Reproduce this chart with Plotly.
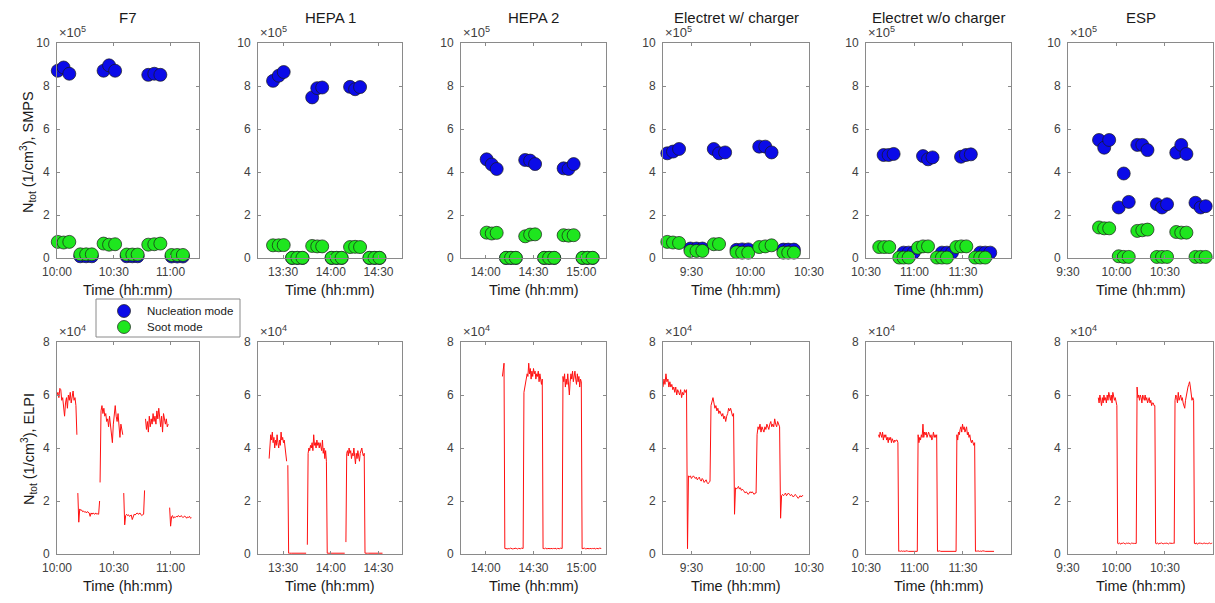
import plotly.graph_objects as go
from datetime import datetime, timedelta

W, H = 1215, 603
FONT = "Liberation Sans, Arial, sans-serif"
DAY = "2021-01-01"

titles = ["F7", "HEPA 1", "HEPA 2", "Electret w/ charger", "Electret w/o charger", "ESP"]
legend_labels = ["Nucleation mode", "Soot mode"]

# ---------------- SMPS (values in 1e5 /cm3) ----------------
f7_nuc_t = ["10:00:24", "10:03:30", "10:06:30", "10:12:18", "10:15:24", "10:18:24",
            "10:24:36", "10:27:30", "10:30:42", "10:36:48", "10:39:48", "10:42:36",
            "10:48:12", "10:51:24", "10:54:36", "11:00:30", "11:03:30", "11:06:30"]
f7_nuc_v = [8.71, 8.86, 8.57, 0.08, 0.08, 0.08, 8.71, 8.96, 8.71, 0.08, 0.08, 0.08,
            8.52, 8.57, 8.52, 0.07, 0.07, 0.07]
f7_soot_t = f7_nuc_t
f7_soot_v = [0.75, 0.72, 0.75, 0.17, 0.17, 0.17, 0.67, 0.62, 0.64, 0.16, 0.16, 0.16,
             0.62, 0.64, 0.67, 0.14, 0.14, 0.14]

hepa1_nuc_t = ["13:23:42", "13:27:18", "13:30:24", "13:35:42", "13:39:00", "13:42:12",
               "13:48:18", "13:51:30", "13:54:36", "14:00:30", "14:03:42", "14:06:48",
               "14:12:06", "14:15:18", "14:18:24", "14:24:18", "14:27:30", "14:30:36"]
hepa1_nuc_v = [8.24, 8.48, 8.65, 0.0, 0.0, 0.0, 7.47, 7.90, 7.93, 0.0, 0.0, 0.0,
               7.96, 7.85, 7.95, 0.0, 0.0, 0.0]
hepa1_soot_t = hepa1_nuc_t
hepa1_soot_v = [0.59, 0.59, 0.60, 0.01, 0.01, 0.01, 0.56, 0.54, 0.54, 0.01, 0.01, 0.01,
                0.51, 0.52, 0.51, 0.01, 0.01, 0.01]

hepa2_nuc_t = ["14:00:36", "14:03:48", "14:06:54", "14:12:48", "14:15:54", "14:18:54",
               "14:24:48", "14:27:54", "14:31:00", "14:36:42", "14:39:48", "14:43:00",
               "14:48:54", "14:52:00", "14:55:12", "15:00:48", "15:03:54", "15:07:06"]
hepa2_nuc_v = [4.59, 4.35, 4.14, 0.0, 0.0, 0.0, 4.56, 4.53, 4.37, 0.0, 0.0, 0.0,
               4.17, 4.14, 4.37, 0.0, 0.0, 0.0]
hepa2_soot_t = hepa2_nuc_t
hepa2_soot_v = [1.18, 1.14, 1.17, 0.01, 0.01, 0.01, 1.01, 1.09, 1.10, 0.01, 0.01, 0.01,
                1.06, 1.04, 1.06, 0.01, 0.01, 0.01]

elw_nuc_t = ["09:17:42", "09:20:36", "09:23:42", "09:29:30", "09:32:36", "09:35:36",
             "09:41:24", "09:44:06", "09:47:12", "09:53:00", "09:55:54", "09:59:00",
             "10:04:36", "10:07:42", "10:10:54", "10:16:54", "10:19:24", "10:22:18"]
elw_nuc_v = [4.87, 4.95, 5.07, 0.44, 0.44, 0.44, 5.07, 4.87, 4.91, 0.38, 0.40, 0.40,
             5.18, 5.18, 4.91, 0.39, 0.39, 0.39]
elw_soot_t = ["09:17:42", "09:20:36", "09:23:42", "09:29:30", "09:32:36", "09:35:36",
              "09:41:24", "09:44:06", "09:53:00", "09:55:54", "09:59:00",
              "10:04:36", "10:07:42", "10:10:54", "10:16:54", "10:19:24", "10:22:18"]
elw_soot_v = [0.75, 0.72, 0.70, 0.33, 0.33, 0.33, 0.64, 0.65, 0.27, 0.25, 0.25,
              0.51, 0.54, 0.59, 0.25, 0.25, 0.25]

elwo_nuc_t = ["10:40:54", "10:44:00", "10:47:06", "10:53:18", "10:56:24", "10:59:30",
              "11:05:18", "11:08:24", "11:11:12", "11:17:00", "11:20:06", "11:23:12",
              "11:28:48", "11:31:54", "11:34:54", "11:40:42", "11:43:48", "11:46:54"]
elwo_nuc_v = [4.79, 4.79, 4.84, 0.25, 0.25, 0.25, 4.74, 4.59, 4.68, 0.25, 0.25, 0.25,
              4.71, 4.79, 4.82, 0.25, 0.25, 0.25]
elwo_soot_t = ["10:38:12", "10:41:18", "10:44:24", "10:50:36", "10:53:18", "10:56:24",
               "11:02:12", "11:05:18", "11:08:24", "11:13:54", "11:17:00", "11:20:06",
               "11:25:54", "11:29:00", "11:32:06", "11:37:36", "11:40:42", "11:43:48"]
elwo_soot_v = [0.51, 0.51, 0.51, 0.02, 0.02, 0.02, 0.48, 0.54, 0.54, 0.02, 0.02, 0.02,
               0.51, 0.54, 0.54, 0.02, 0.02, 0.02]

esp_nuc_t = ["09:49:12", "09:52:24", "09:55:30", "10:01:24", "10:04:30", "10:07:36",
             "10:12:54", "10:16:00", "10:19:12", "10:25:00", "10:28:12", "10:31:18",
             "10:37:00", "10:40:06", "10:43:18", "10:48:54", "10:52:06", "10:55:12"]
esp_nuc_v = [5.49, 5.13, 5.49, 2.35, 3.93, 2.61, 5.26, 5.26, 5.02, 2.50, 2.35, 2.50,
             4.90, 5.26, 4.84, 2.57, 2.35, 2.41]
esp_soot_t = esp_nuc_t
esp_soot_v = [1.42, 1.38, 1.38, 0.08, 0.05, 0.05, 1.26, 1.29, 1.32, 0.05, 0.05, 0.05,
              1.21, 1.18, 1.18, 0.05, 0.05, 0.05]

# ---------------- ELPI (values in 1e4 /cm3), 30 s samples per segment ----------------
ELPI_STEP_S = 30

f7_elpi_starts = ["10:00:00", "10:11:00", "10:22:45", "10:35:15", "10:46:45", "10:59:30"]
f7_elpi_vals = [
    [6.0, 6.1, 5.9, 6.25, 6.2, 5.8, 5.9, 5.6, 5.2, 5.7, 5.9, 5.5, 6.0, 5.8, 6.1, 5.7,
     5.9, 6.15, 5.8, 5.9, 5.6, 4.5, None],
    [2.3, 1.2, 1.7, 1.65, 1.66, 1.6, 1.62, 1.58, 1.6, 1.55, 1.6, 1.57, 1.55, 1.42,
     1.55, 1.5, 1.55, 1.52, 1.5, 1.55, 1.5, 1.52, 1.5, 2.0, None],
    [2.7, 5.4, 5.6, 5.3, 5.5, 5.2, 5.3, 5.0, 5.1, 4.8, 5.2, 4.9, 4.5, 4.2, 4.9, 5.3,
     5.6, 5.2, 5.0, 5.3, 4.8, 4.4, 4.9, 4.6, 4.5, None],
    [2.3, 1.1, 1.45, 1.5, 1.45, 1.48, 1.42, 1.45, 1.47, 1.3, 1.45, 1.5, 1.47, 1.5,
     1.55, 1.52, 1.5, 1.55, 1.5, 1.45, 1.48, 1.5, 2.4, None],
    [5.1, 4.7, 5.0, 4.6, 5.2, 4.8, 5.1, 4.9, 5.3, 5.0, 5.2, 4.9, 5.4, 5.1, 5.5, 5.0,
     4.8, 5.2, 4.6, 5.3, 5.0, 4.9, 5.1, 4.8, 4.9, None],
    [1.75, 1.05, 1.4, 1.45, 1.35, 1.4, 1.38, 1.42, 1.4, 1.45, 1.42, 1.4, 1.45, 1.42,
     1.38, 1.4, 1.43, 1.4, 1.35, 1.4, 1.38, 1.42, 1.35, 1.37],
]

hepa1_elpi_starts = ["13:21:15", "13:33:00", "13:45:15", "13:57:15", "14:09:30", "14:21:30"]
hepa1_elpi_vals = [
    [3.6, 4.1, 4.5, 4.3, 4.6, 4.2, 4.4, 4.0, 4.3, 4.1, 4.5, 4.2, 4.0, 4.3, 4.1, 4.6,
     4.3, 4.4, 4.2, 4.3, 4.0, 3.8, 3.5, None],
    [3.35, 0.03, 0.03, 0.04, 0.03, 0.03, 0.03, 0.04, 0.03, 0.03, 0.03, 0.04, 0.03,
     0.03, 0.03, 0.04, 0.03, 0.03, 0.03, 0.04, 0.03, 0.03, 0.03, 0.03, None],
    [0.35, 3.8, 4.0, 3.9, 4.1, 4.0, 4.2, 3.9, 4.5, 4.1, 4.2, 4.0, 4.3, 4.1, 4.2, 4.0,
     4.2, 4.1, 3.9, 4.3, 3.8, 4.0, 3.6, 3.9],
    [3.5, 0.03, 0.03, 0.04, 0.03, 0.03, 0.03, 0.04, 0.03, 0.03, 0.03, 0.04, 0.03,
     0.03, 0.03, 0.04, 0.03, 0.03, 0.03, 0.04, 0.03, 0.03, 0.03, 0.03, None],
    [0.45, 3.8, 3.9, 3.7, 4.0, 3.8, 3.9, 3.6, 3.8, 3.7, 4.0, 3.6, 3.4, 3.8, 3.6, 3.9,
     3.7, 3.5, 3.8, 3.9, 4.0, 3.8, 3.7, 3.8],
    [0.03, 0.03, 0.04, 0.03, 0.03, 0.03, 0.04, 0.03, 0.03, 0.03, 0.04, 0.03, 0.03,
     0.03, 0.04, 0.03, 0.03, 0.03, 0.04, 0.03, 0.03, 0.03, 0.03],
]

hepa2_elpi_starts = ["14:10:30", "14:12:00", "14:24:00", "14:36:00", "14:48:30", "15:00:30"]
hepa2_elpi_vals = [
    [6.7, 7.1, 7.2],
    [0.21, 0.2, 0.22, 0.2, 0.19, 0.21, 0.2, 0.22, 0.2, 0.21, 0.19, 0.2, 0.21, 0.2,
     0.22, 0.2, 0.19, 0.21, 0.2, 0.21, 0.2, 0.22, 0.2, 0.21],
    [6.1, 6.3, 6.5, 6.6, 6.8, 6.7, 7.2, 6.8, 7.0, 6.6, 6.9, 6.7, 7.0, 6.8, 6.9, 6.6,
     6.8, 6.7, 6.9, 6.5, 6.8, 6.6, 6.4, 6.6],
    [0.2, 0.21, 0.2, 0.22, 0.2, 0.19, 0.21, 0.2, 0.22, 0.2, 0.21, 0.19, 0.2, 0.21,
     0.2, 0.22, 0.2, 0.19, 0.21, 0.2, 0.21, 0.2, 0.22, 0.2, 0.21],
    [6.7, 6.5, 6.8, 6.3, 6.6, 6.4, 6.8, 6.3, 6.0, 6.5, 6.8, 6.6, 6.9, 6.5, 6.7, 6.9,
     6.6, 6.4, 6.8, 6.5, 6.7, 6.3, 6.6, 6.5],
    [0.2, 0.21, 0.2, 0.22, 0.2, 0.19, 0.21, 0.2, 0.22, 0.2, 0.21, 0.19, 0.2, 0.21,
     0.2, 0.22, 0.2, 0.19, 0.21, 0.2, 0.21, 0.2, 0.22, 0.2, 0.21],
]

elw_elpi_starts = ["09:15:30", "09:28:00", "09:40:00", "09:52:00", "10:03:30", "10:15:30"]
elw_elpi_vals = [
    [6.3, 6.6, 6.4, 6.8, 6.5, 6.6, 6.3, 6.5, 6.3, 6.4, 6.2, 6.3, 6.1, 6.3, 6.0, 6.2,
     6.1, 6.0, 6.2, 5.9, 6.1, 6.0, 6.2, 6.1, 6.2],
    [0.2, 2.95, 2.9, 2.95, 2.85, 2.9, 2.95, 2.9, 2.85, 2.9, 2.8, 2.85, 2.9, 2.8, 2.75,
     2.85, 2.8, 2.7, 2.75, 2.8, 2.7, 2.65, 2.7, 2.75],
    [5.6, 5.8, 5.9, 5.7, 5.5, 5.6, 5.4, 5.5, 5.3, 5.4, 5.3, 5.2, 5.3, 5.1, 5.2, 5.0,
     5.2, 5.3, 5.5, 5.4, 5.5, 5.3, 5.2, 5.3],
    [1.5, 2.5, 2.45, 2.5, 2.55, 2.45, 2.5, 2.4, 2.45, 2.4, 2.35, 2.3, 2.35, 2.3, 2.25,
     2.3, 2.35, 2.3, 2.35, 2.3, 2.25, 2.3, 2.3],
    [4.5, 4.8, 4.7, 4.9, 4.6, 4.8, 4.7, 4.6, 4.8, 4.7, 4.9, 4.8, 4.7, 4.9, 5.0, 4.8,
     4.9, 4.8, 5.1, 4.9, 4.8, 5.0, 4.9, 4.8],
    [1.35, 2.2, 2.25, 2.2, 2.25, 2.3, 2.2, 2.25, 2.3, 2.25, 2.2, 2.25, 2.2, 2.15, 2.2,
     2.25, 2.2, 2.15, 2.1, 2.15, 2.2, 2.15, 2.2, 2.2],
]

elwo_elpi_starts = ["10:37:45", "10:50:15", "11:02:15", "11:14:15", "11:26:15", "11:37:45"]
elwo_elpi_vals = [
    [4.5, 4.4, 4.6, 4.5, 4.4, 4.6, 4.3, 4.5, 4.4, 4.5, 4.3, 4.4, 4.2, 4.4, 4.3, 4.4,
     4.2, 4.35, 4.3, 4.2, 4.3, 4.25, 4.3, 4.3, 4.2],
    [0.1, 0.11, 0.1, 0.12, 0.1, 0.1, 0.11, 0.1, 0.1, 0.12, 0.1, 0.11, 0.1, 0.1, 0.11,
     0.1, 0.12, 0.1, 0.1, 0.11, 0.1, 0.1, 0.11, 0.1],
    [4.5, 4.2, 4.4, 4.3, 4.5, 4.4, 4.9, 4.4, 4.6, 4.5, 4.6, 4.4, 4.5, 4.6, 4.5, 4.4,
     4.5, 4.3, 4.4, 4.6, 4.4, 4.5, 4.4, 4.5],
    [0.1, 0.11, 0.1, 0.12, 0.1, 0.1, 0.11, 0.1, 0.1, 0.12, 0.1, 0.11, 0.1, 0.1, 0.11,
     0.1, 0.12, 0.1, 0.1, 0.11, 0.1, 0.1, 0.11, 0.1],
    [4.5, 4.3, 4.6, 4.5, 4.7, 4.8, 4.6, 4.9, 4.7, 4.8, 4.6, 4.7, 4.8, 4.5, 4.6, 4.4,
     4.5, 4.3, 4.2, 4.3, 4.2, 4.1, 4.2],
    [0.1, 0.11, 0.1, 0.12, 0.1, 0.1, 0.11, 0.1, 0.1, 0.12, 0.1, 0.11, 0.1, 0.1, 0.11,
     0.1, 0.12, 0.1, 0.1, 0.11, 0.1, 0.1, 0.11, 0.1],
]

esp_elpi_starts = ["09:48:45", "10:00:45", "10:12:45", "10:24:15", "10:36:15", "10:48:15"]
esp_elpi_vals = [
    [5.9, 5.7, 6.0, 5.8, 5.6, 5.9, 5.7, 6.0, 5.8, 5.9, 5.7, 6.0, 5.8, 6.1, 5.9, 5.8,
     6.0, 5.7, 6.1, 5.9, 5.8, 5.9, 5.7, 5.6],
    [0.4, 0.38, 0.42, 0.4, 0.37, 0.41, 0.4, 0.43, 0.39, 0.4, 0.38, 0.41, 0.4, 0.42,
     0.39, 0.4, 0.38, 0.41, 0.4, 0.42, 0.39, 0.4, 0.41, 0.4],
    [6.3, 5.9, 6.0, 5.8, 6.0, 5.9, 5.7, 6.0, 5.9, 5.8, 6.0, 5.8, 5.9, 5.7, 5.8, 5.9,
     5.7, 5.8, 5.6, 5.7, 5.7, 5.6, 5.6],
    [0.4, 0.38, 0.42, 0.4, 0.37, 0.41, 0.4, 0.43, 0.39, 0.4, 0.38, 0.41, 0.4, 0.42,
     0.39, 0.4, 0.38, 0.41, 0.4, 0.42, 0.39, 0.4, 0.41, 0.4],
    [5.8, 6.0, 5.9, 5.7, 6.1, 5.8, 5.9, 6.0, 5.8, 5.9, 5.7, 5.6, 5.5, 5.8, 6.0, 6.1,
     6.3, 6.4, 6.5, 6.3, 6.0, 5.8, 5.9, 5.8],
    [0.4, 0.38, 0.42, 0.4, 0.37, 0.41, 0.4, 0.43, 0.39, 0.4, 0.38, 0.41, 0.4, 0.42,
     0.39, 0.4, 0.38, 0.41, 0.4, 0.42, 0.39, 0.4, 0.41],
]

# ---------------- axes: time ranges and tick labels ----------------
x_ranges = [("10:00:00", "11:15:00"), ("13:14:15", "14:44:45"), ("13:44:30", "15:15:30"),
            ("09:15:30", "10:30:00"), ("10:30:00", "11:59:45"), ("09:30:00", "10:59:45")]
x_tick_labels = [["10:00", "10:30", "11:00"], ["13:30", "14:00", "14:30"],
                 ["14:00", "14:30", "15:00"], ["9:30", "10:00", "10:30"],
                 ["10:30", "11:00", "11:30"], ["9:30", "10:00", "10:30"]]
smps_ticks = [0, 2, 4, 6, 8, 10]
elpi_ticks = [0, 2, 4, 6, 8]

smps = [(f7_nuc_t, f7_nuc_v, f7_soot_t, f7_soot_v),
        (hepa1_nuc_t, hepa1_nuc_v, hepa1_soot_t, hepa1_soot_v),
        (hepa2_nuc_t, hepa2_nuc_v, hepa2_soot_t, hepa2_soot_v),
        (elw_nuc_t, elw_nuc_v, elw_soot_t, elw_soot_v),
        (elwo_nuc_t, elwo_nuc_v, elwo_soot_t, elwo_soot_v),
        (esp_nuc_t, esp_nuc_v, esp_soot_t, esp_soot_v)]
elpi = [(f7_elpi_starts, f7_elpi_vals), (hepa1_elpi_starts, hepa1_elpi_vals),
        (hepa2_elpi_starts, hepa2_elpi_vals), (elw_elpi_starts, elw_elpi_vals),
        (elwo_elpi_starts, elwo_elpi_vals), (esp_elpi_starts, esp_elpi_vals)]


def ts(hms):
    parts = hms.split(":")
    h, m = parts[0], parts[1]
    s = parts[2] if len(parts) == 3 else "00"
    return f"{DAY} {int(h):02d}:{m}:{s}"


def elpi_series(starts, vals):
    xs, ys = [], []
    for st, seg in zip(starts, vals):
        t0 = datetime.strptime(ts(st), "%Y-%m-%d %H:%M:%S")
        for i, v in enumerate(seg):
            xs.append((t0 + timedelta(seconds=ELPI_STEP_S * i)).strftime("%Y-%m-%d %H:%M:%S"))
            ys.append(v)
    return xs, ys


# ---------------- layout geometry (pixels) ----------------
col_px = [(57, 199), (258, 402), (461, 606), (663, 809), (866, 1011), (1068, 1213)]
top_px = (43, 258)
bot_px = (342, 554)


def xd(a, b):
    return [a / W, b / W]


def yd(t, b):
    return [1 - b / H, 1 - t / H]


AXC = "#8a8a8a"
TXC = "#404040"
BLUE = "#0b0be8"
GREEN = "#1ee61e"
EDGE = "#1a1a1a"

fig = go.Figure()
layout = dict(width=W, height=H, margin=dict(l=0, r=0, t=0, b=0, pad=0, autoexpand=False),
              paper_bgcolor="white", plot_bgcolor="white", showlegend=False,
              font=dict(family=FONT, size=12, color=TXC))
annotations = []
shapes = []

for i in range(6):
    kt, kb = i + 1, i + 7
    nt, nv, st_, sv = smps[i]
    fig.add_trace(go.Scatter(
        x=[ts(t) for t in nt], y=nv, mode="markers", name=legend_labels[0],
        marker=dict(size=13, color=BLUE, line=dict(color=EDGE, width=0.7)),
        xaxis=f"x{kt}", yaxis=f"y{kt}", cliponaxis=False))
    fig.add_trace(go.Scatter(
        x=[ts(t) for t in st_], y=sv, mode="markers", name=legend_labels[1],
        marker=dict(size=13, color=GREEN, line=dict(color=EDGE, width=0.7)),
        xaxis=f"x{kt}", yaxis=f"y{kt}", cliponaxis=False))
    ex, ey = elpi_series(*elpi[i])
    fig.add_trace(go.Scatter(
        x=ex, y=ey, mode="lines", line=dict(color="#ff1010", width=1),
        xaxis=f"x{kb}", yaxis=f"y{kb}", connectgaps=False))

    r0, r1 = x_ranges[i]
    tv = [ts(t) for t in x_tick_labels[i]]
    common = dict(showline=True, linecolor=AXC, linewidth=1, mirror="ticks",
                  ticks="inside", ticklen=3, tickcolor=AXC, showgrid=False,
                  zeroline=False, automargin=False,
                  tickfont=dict(family=FONT, size=12, color=TXC))
    for k in (kt, kb):
        layout[f"xaxis{k}"] = dict(type="date", domain=xd(*col_px[i]),
                                   range=[ts(r0), ts(r1)], tickvals=tv,
                                   ticktext=x_tick_labels[i], anchor=f"y{k}",
                                   ticklabelstandoff=3, **common)
    layout[f"yaxis{kt}"] = dict(domain=yd(*top_px), range=[0, 10], tickvals=smps_ticks,
                                anchor=f"x{kt}", ticklabelstandoff=4, **common)
    layout[f"yaxis{kb}"] = dict(domain=yd(*bot_px), range=[0, 8], tickvals=elpi_ticks,
                                anchor=f"x{kb}", ticklabelstandoff=4, **common)

    cx = (col_px[i][0] + col_px[i][1]) / 2 / W
    annotations.append(dict(text=titles[i], x=cx, y=1 - 18 / H, xref="paper", yref="paper",
                            xanchor="center", yanchor="middle", showarrow=False,
                            font=dict(family=FONT, size=15, color="#1a1a1a")))
    for ry in (290, 586):
        annotations.append(dict(text="Time (hh:mm)", x=cx, y=1 - ry / H, xref="paper",
                                yref="paper", xanchor="center", yanchor="middle",
                                showarrow=False,
                                font=dict(family=FONT, size=14.5, color="#1a1a1a")))
    for (tpx, expo) in ((top_px[0], "5"), (bot_px[0], "4")):
        annotations.append(dict(text=f"×10<sup>{expo}</sup>", x=col_px[i][0] / W,
                                y=1 - (tpx - 1) / H, xref="paper", yref="paper",
                                xanchor="left", yanchor="bottom", showarrow=False,
                                font=dict(family=FONT, size=13, color=TXC)))

annotations.append(dict(text="N<sub>tot</sub> (1/cm<sup>3</sup>), SMPS", x=28 / W,
                        y=1 - 152 / H, xref="paper", yref="paper", textangle=-90,
                        xanchor="center", yanchor="middle", showarrow=False,
                        font=dict(family=FONT, size=14.5, color="#1a1a1a")))
annotations.append(dict(text="N<sub>tot</sub> (1/cm<sup>3</sup>), ELPI", x=29 / W,
                        y=1 - 449 / H, xref="paper", yref="paper", textangle=-90,
                        xanchor="center", yanchor="middle", showarrow=False,
                        font=dict(family=FONT, size=14.5, color="#1a1a1a")))

# ---- legend box (drawn as paper-anchored shapes and text) ----
LEG_BOX = (96, 299, 240, 337)
shapes.append(dict(type="rect", xref="paper", yref="paper",
                   x0=LEG_BOX[0] / W, x1=LEG_BOX[2] / W,
                   y0=1 - LEG_BOX[3] / H, y1=1 - LEG_BOX[1] / H,
                   line=dict(color=AXC, width=1), fillcolor="white", layer="above"))
for j, (lab, col, ypx) in enumerate(zip(legend_labels, [BLUE, GREEN], [311, 327])):
    shapes.append(dict(type="circle", xref="paper", yref="paper",
                       xsizemode="pixel", ysizemode="pixel",
                       xanchor=124 / W, yanchor=1 - ypx / H,
                       x0=-6.5, x1=6.5, y0=-6.5, y1=6.5,
                       fillcolor=col, line=dict(color=EDGE, width=0.7), layer="above"))
    annotations.append(dict(text=lab, x=145 / W, y=1 - ypx / H, xref="paper",
                            yref="paper", xanchor="left", yanchor="middle",
                            showarrow=False,
                            font=dict(family=FONT, size=11.5, color="#1a1a1a")))

layout["annotations"] = annotations
layout["shapes"] = shapes
fig.update_layout(**layout)
fig.write_html("out.html")
